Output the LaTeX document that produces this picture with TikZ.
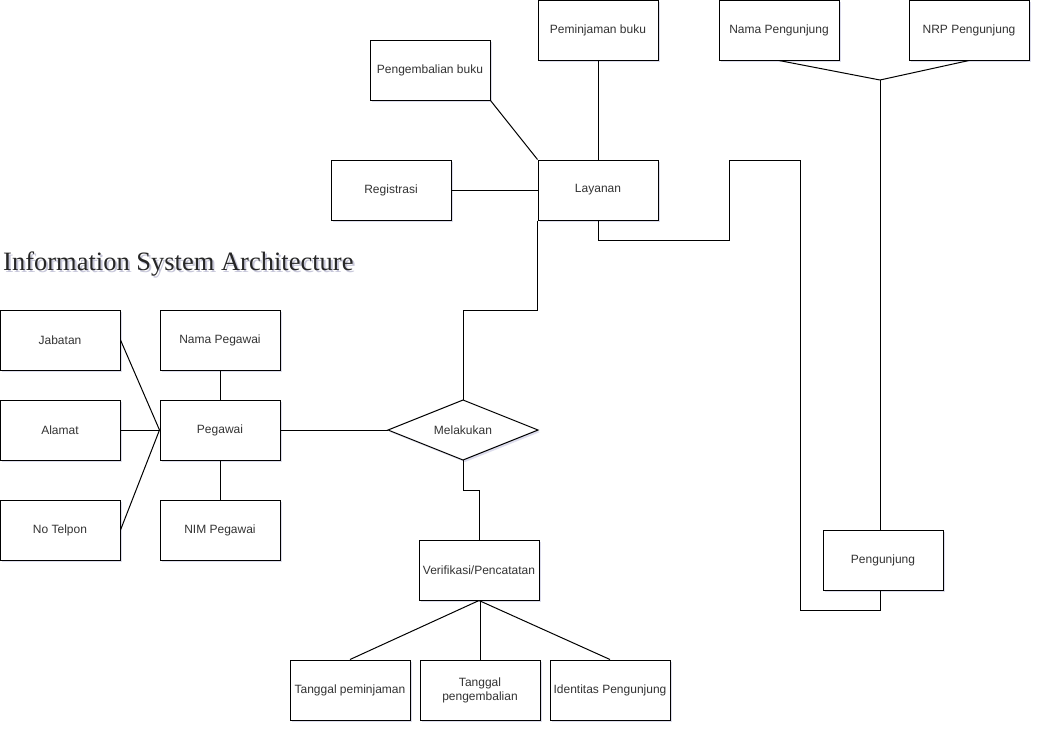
\documentclass[tikz,border=0pt]{standalone}
\usepackage{fontspec}
\setmainfont{Liberation Sans}
\newfontfamily\titlefont{Liberation Serif}
\usetikzlibrary{shadows}
\tikzset{
  x=1pt,y=-1pt,
  shd/.style={drop shadow={shadow xshift=2pt,shadow yshift=-2pt,opacity=0.2,fill=blue!30!gray}},
  ent/.style={draw=black,fill=white,line width=1pt,minimum width=120pt,minimum height=60pt,inner sep=2pt,
    align=center,font=\fontsize{12}{14}\selectfont,text=black!80,shd},
  reltext/.style={minimum width=150pt,minimum height=60pt,inner sep=0pt,outer sep=0pt,
    font=\fontsize{12}{14}\selectfont,text=black!80},
  relshape/.style={draw=black,fill=white,line width=1pt,line join=miter,shd},
  conn/.style={draw=black,line width=1pt}
}
\begin{document}
\begin{tikzpicture}
\useasboundingbox (0,0) rectangle (1041,732);
\fill[white] (0,0) rectangle (1041,732);

% title
\node[anchor=base west,inner sep=0pt,font=\titlefont\fontsize{26.5}{30}\selectfont,text=blue!20!gray!60,opacity=0.6] at (5,272) {Information System Architecture};
\node[anchor=base west,inner sep=0pt,font=\titlefont\fontsize{26.5}{30}\selectfont,text=black!85] (title) at (3,270) {Information System Architecture};

\coordinate (j1) at (880,80);

% entities
\node[ent] (pem) at (598,30) {Peminjaman buku};
\node[ent] (kem) at (430,70) {Pengembalian buku};
\node[ent] (napj) at (779,30) {Nama Pengunjung};
\node[ent] (nrp) at (969,30) {NRP Pengunjung};
\node[ent] (reg) at (391,190) {Registrasi};
\node[ent] (lay) at (598,190) {Layanan};
\node[ent] (jab) at (60,340) {Jabatan};
\node[ent] (napg) at (220,340) {Nama Pegawai};
\node[ent] (ala) at (60,430) {Alamat};
\node[ent] (peg) at (220,430) {Pegawai};
\node[ent] (tel) at (60,530) {No Telpon};
\node[ent] (nim) at (220,530) {NIM Pegawai};
\node[reltext] (mel) at (463,430) {};
\path[relshape] (mel.north) -- (mel.east) -- (mel.south) -- (mel.west) -- cycle;
\node[reltext] at (mel.center) {Melakukan};
\node[ent] (ver) at (479,570) {Verifikasi/Pencatatan};
\node[ent] (tpm) at (350,690) {Tanggal peminjaman};
\node[ent] (tpg) at (480,690) {Tanggal\\pengembalian};
\node[ent] (idp) at (610,690) {Identitas Pengunjung};
\node[ent] (pgj) at (883,560) {Pengunjung};

% connectors
\draw[conn] (pem.south) -- (lay.north);
\draw[conn] (kem.south east) -- (lay.north west);
\draw[conn] (reg.east) -- (lay.west);
\draw[conn] (napj.south) -- (j1);
\draw[conn] (nrp.south) -- (j1);
\draw[conn] (j1) -- (pgj.north -| j1);
\draw[conn] (lay.south) -- ++(0,20) -| (729,160) -| (800,610) -| (pgj.south -| j1);
\draw[conn] (lay.south west) |- (463,310) -- (mel.north);
\draw[conn] (peg.east) -- (mel.west);
\draw[conn] (mel.south) -- ++(0,30) -| (ver.north);
\draw[conn] (ver.south) -- (tpm.north);
\draw[conn] (ver.south -| tpg.north) -- (tpg.north);
\draw[conn] (ver.south) -- (idp.north);
\draw[conn] (napg.south) -- (peg.north);
\draw[conn] (nim.north) -- (peg.south);
\draw[conn] (jab.east) -- (peg.west);
\draw[conn] (ala.east) -- (peg.west);
\draw[conn] (tel.east) -- (peg.west);
\end{tikzpicture}
\end{document}
